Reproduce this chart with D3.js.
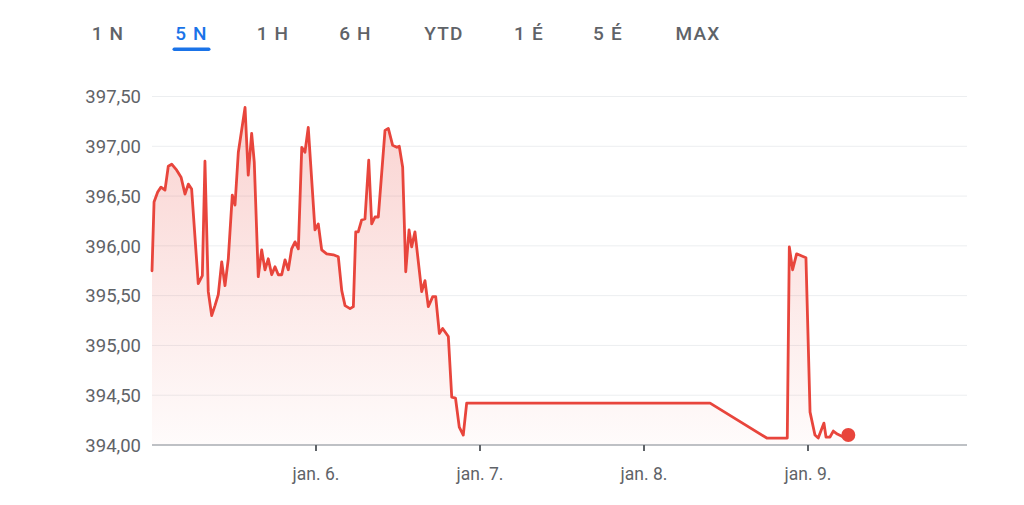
<!DOCTYPE html>
<html>
<head>
<meta charset="utf-8">
<script src="https://cdn.jsdelivr.net/npm/d3@7"></script>
<style>
  html, body { margin: 0; padding: 0; background: #ffffff; }
  svg { display: block; }
</style>
</head>
<body>
<svg id="chart" width="1024" height="505"></svg>
<script>
// ---------- DATA ----------
const tabLabels = ["1 N", "5 N", "1 H", "6 H", "YTD", "1 É", "5 É", "MAX"];
const activeTab = "5 N";

const times = [
  "2023-01-05 00:00","2023-01-05 00:18","2023-01-05 00:50","2023-01-05 01:19","2023-01-05 01:54",
  "2023-01-05 02:23","2023-01-05 02:53","2023-01-05 03:37","2023-01-05 04:15","2023-01-05 04:50",
  "2023-01-05 05:19","2023-01-05 05:48","2023-01-05 06:46","2023-01-05 07:22","2023-01-05 07:45",
  "2023-01-05 08:14","2023-01-05 08:44","2023-01-05 09:13","2023-01-05 09:42","2023-01-05 10:12",
  "2023-01-05 10:41","2023-01-05 11:10","2023-01-05 11:45","2023-01-05 12:09","2023-01-05 12:38",
  "2023-01-05 13:37","2023-01-05 14:05","2023-01-05 14:35","2023-01-05 14:58","2023-01-05 15:33",
  "2023-01-05 16:03","2023-01-05 16:32","2023-01-05 17:01","2023-01-05 17:31","2023-01-05 18:00",
  "2023-01-05 18:29","2023-01-05 18:59","2023-01-05 19:28","2023-01-05 19:57","2023-01-05 20:26",
  "2023-01-05 20:56","2023-01-05 21:25","2023-01-05 21:55","2023-01-05 22:23","2023-01-05 22:52",
  "2023-01-05 23:51","2023-01-06 00:20","2023-01-06 00:50","2023-01-06 01:34","2023-01-06 02:32",
  "2023-01-06 03:16","2023-01-06 03:46","2023-01-06 04:15","2023-01-06 04:59","2023-01-06 05:28",
  "2023-01-06 05:49","2023-01-06 06:11","2023-01-06 06:41","2023-01-06 07:10","2023-01-06 07:43",
  "2023-01-06 08:09","2023-01-06 08:38","2023-01-06 09:07","2023-01-06 10:06","2023-01-06 10:35",
  "2023-01-06 11:13","2023-01-06 11:49","2023-01-06 12:11","2023-01-06 12:41","2023-01-06 13:08",
  "2023-01-06 13:37","2023-01-06 14:00","2023-01-06 14:29","2023-01-06 15:28","2023-01-06 15:57",
  "2023-01-06 16:26","2023-01-06 17:05","2023-01-06 17:31","2023-01-06 18:03","2023-01-06 18:32",
  "2023-01-06 19:22","2023-01-06 19:52","2023-01-06 20:25","2023-01-06 20:58","2023-01-06 21:33",
  "2023-01-06 22:03","2023-01-08 09:40","2023-01-08 17:58","2023-01-08 20:58","2023-01-08 21:16",
  "2023-01-08 21:45","2023-01-08 22:20","2023-01-08 23:42","2023-01-09 00:18","2023-01-09 01:01",
  "2023-01-09 01:30","2023-01-09 02:20","2023-01-09 02:38","2023-01-09 03:13","2023-01-09 03:42",
  "2023-01-09 04:17","2023-01-09 05:10","2023-01-09 05:54"
];
const prices = [
  395.75,396.44,396.54,396.59,396.56,
  396.80,396.82,396.76,396.69,396.52,
  396.62,396.57,395.62,395.70,396.85,
  395.54,395.30,395.40,395.51,395.84,
  395.60,395.87,396.51,396.41,396.94,
  397.39,396.71,397.13,396.84,395.69,
  395.96,395.76,395.87,395.71,395.79,
  395.71,395.71,395.86,395.76,395.97,
  396.04,395.97,396.99,396.94,397.19,
  396.16,396.22,395.96,395.92,395.91,
  395.89,395.55,395.40,395.37,395.39,
  396.14,396.14,396.26,396.27,396.86,
  396.22,396.29,396.29,397.16,397.18,
  397.01,396.99,397.00,396.79,395.74,
  396.16,395.99,396.14,395.54,395.65,
  395.39,395.49,395.49,395.12,395.17,
  395.09,394.48,394.47,394.18,394.10,
  394.42,394.42,394.07,394.07,395.99,
  395.76,395.92,395.88,394.33,394.10,
  394.07,394.22,394.08,394.08,394.14,
  394.11,394.08,394.10
];

const yTicks = [394.0, 394.5, 395.0, 395.5, 396.0, 396.5, 397.0, 397.5];
const xTickDates = ["2023-01-06 00:00", "2023-01-07 00:00", "2023-01-08 00:00", "2023-01-09 00:00"];
const xTickLabels = ["jan. 6.", "jan. 7.", "jan. 8.", "jan. 9."];
const xDomain = ["2023-01-05 00:00", "2023-01-10 00:00"];
const yDomain = [394.0, 397.5];

// ---------- LAYOUT ----------
const plotLeft = 152, plotRight = 967, plotTop = 96.5, plotBottom = 445;
const lineColor = "#e8453c";

const parse = d3.timeParse("%Y-%m-%d %H:%M");
const data = times.map((t, i) => ({ t: parse(t), v: prices[i] }));

const x = d3.scaleTime().domain(xDomain.map(parse)).range([plotLeft, 972]);
const y = d3.scaleLinear().domain(yDomain).range([plotBottom, plotTop]);

const huLocale = d3.formatLocale({ decimal: ",", thousands: " ", grouping: [3], currency: ["", " Ft"] });
const fmt = huLocale.format(".2f");

const svg = d3.select("#chart");

// ---------- TABS ----------
const tabCenters = [108, 191.5, 273, 355.5, 444, 529, 608, 698];
const tabs = svg.append("g").attr("class", "tabs");
tabLabels.forEach((lab, i) => {
  const active = lab === activeTab;
  tabs.append("text")
    .attr("x", tabCenters[i])
    .attr("y", 40)
    .attr("text-anchor", "middle")
    .style("font-family", "Roboto, 'Noto Sans', sans-serif")
    .style("font-size", "19px")
    .style("font-weight", 500)
    .style("letter-spacing", "1.2px")
    .style("fill", active ? "#1a73e8" : "#5f6368")
    .text(lab);
  if (active) {
    tabs.append("rect")
      .attr("x", tabCenters[i] - 19)
      .attr("y", 47.5)
      .attr("width", 38)
      .attr("height", 3.5)
      .attr("rx", 1.75)
      .style("fill", "#1a73e8");
  }
});

// ---------- GRID ----------
const grid = svg.append("g");
grid.selectAll("line")
  .data(yTicks.filter(d => d !== yDomain[0]))
  .join("line")
  .attr("x1", plotLeft).attr("x2", plotRight)
  .attr("y1", d => y(d)).attr("y2", d => y(d))
  .style("stroke", "#eceef0")
  .style("stroke-width", 1);

// y labels
svg.append("g").selectAll("text")
  .data(yTicks)
  .join("text")
  .attr("x", 141)
  .attr("y", d => y(d))
  .attr("dy", "0.36em")
  .attr("text-anchor", "end")
  .style("font-family", "Roboto, 'Noto Sans', sans-serif")
  .style("font-size", "18.5px")
  .style("fill", "#5f6368")
  .text(d => fmt(d));

// ---------- AREA + LINE ----------
const defs = svg.append("defs");
const grad = defs.append("linearGradient")
  .attr("id", "areaGrad")
  .attr("gradientUnits", "userSpaceOnUse")
  .attr("x1", 0).attr("x2", 0)
  .attr("y1", y(d3.max(prices))).attr("y2", plotBottom);
grad.append("stop").attr("offset", "0%").attr("stop-color", lineColor).attr("stop-opacity", 0.24);
grad.append("stop").attr("offset", "100%").attr("stop-color", lineColor).attr("stop-opacity", 0.02);

const area = d3.area()
  .x(d => x(d.t))
  .y0(y(yDomain[0]))
  .y1(d => y(d.v));
svg.append("path")
  .datum(data)
  .attr("d", area)
  .style("fill", "url(#areaGrad)");

const line = d3.line().x(d => x(d.t)).y(d => y(d.v));
svg.append("path")
  .datum(data)
  .attr("d", line)
  .style("fill", "none")
  .style("stroke", lineColor)
  .style("stroke-width", 2.8)
  .style("stroke-linejoin", "round")
  .style("stroke-linecap", "round");

// ---------- X AXIS ----------
svg.append("line")
  .attr("x1", plotLeft).attr("x2", plotRight)
  .attr("y1", plotBottom).attr("y2", plotBottom)
  .style("stroke", "#a9adb2")
  .style("stroke-width", 1.6);

const xt = svg.append("g");
xTickDates.forEach((ds, i) => {
  const xx = x(parse(ds));
  xt.append("line")
    .attr("x1", xx).attr("x2", xx)
    .attr("y1", plotBottom).attr("y2", plotBottom + 6)
    .style("stroke", "#5f6368")
    .style("stroke-width", 2);
  xt.append("text")
    .attr("x", xx)
    .attr("y", 480)
    .attr("text-anchor", "middle")
    .style("font-family", "Roboto, 'Noto Sans', sans-serif")
    .style("font-size", "17.5px")
    .style("fill", "#5f6368")
    .text(xTickLabels[i]);
});

// ---------- END DOT ----------
const last = data[data.length - 1];
svg.append("circle")
  .attr("cx", x(last.t))
  .attr("cy", y(last.v))
  .attr("r", 7)
  .style("fill", lineColor);
</script>
</body>
</html>
